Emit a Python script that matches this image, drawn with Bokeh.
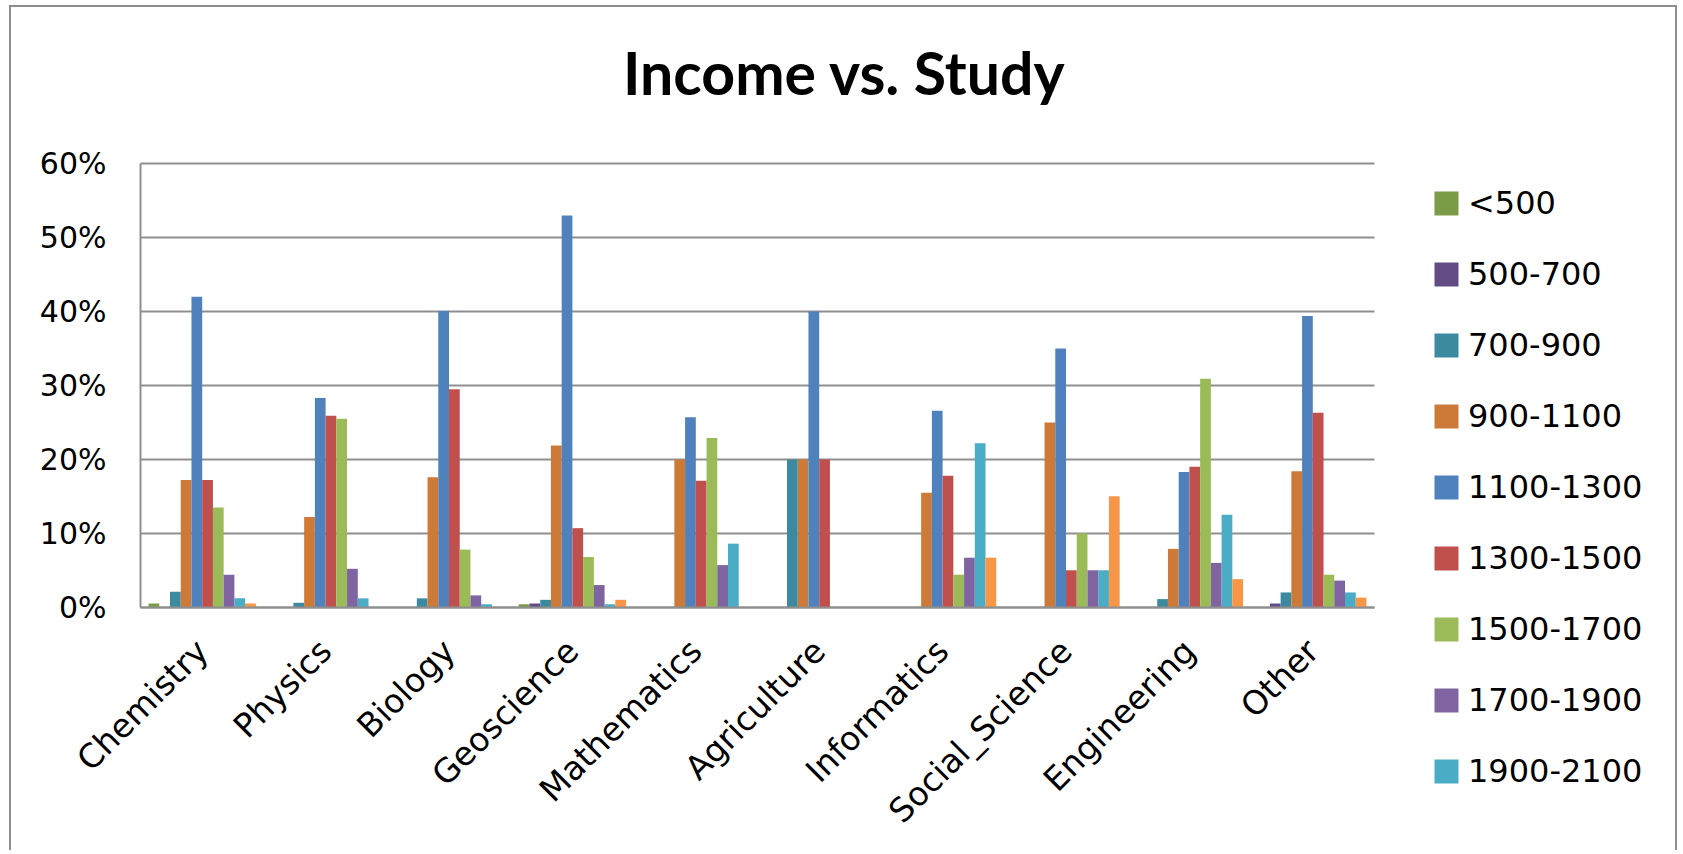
from bokeh.plotting import figure
from bokeh.models import (ColumnDataSource, Range1d, Legend, LegendItem, Label,
                          NumeralTickFormatter, FixedTicker)
from bokeh.transform import dodge
from bokeh.embed import file_html
from bokeh.resources import INLINE
import math

categories = ["Chemistry", "Physics", "Biology", "Geoscience", "Mathematics",
              "Agriculture", "Informatics", "Social_Science", "Engineering", "Other"]

series_names = ["<500", "500-700", "700-900", "900-1100", "1100-1300",
                "1300-1500", "1500-1700", "1700-1900", "1900-2100", ">2100"]

# percentages per category, one list per income band
s_lt500     = [0.5, 0.0, 0.0, 0.4, 0.0, 0.0, 0.0, 0.0, 0.0, 0.0]
s_500_700   = [0.0, 0.0, 0.0, 0.5, 0.0, 0.0, 0.0, 0.0, 0.0, 0.5]
s_700_900   = [2.1, 0.6, 1.2, 1.0, 0.0, 20.0, 0.0, 0.0, 1.1, 2.0]
s_900_1100  = [17.2, 12.2, 17.6, 21.9, 20.0, 20.0, 15.5, 25.0, 7.9, 18.4]
s_1100_1300 = [42.0, 28.3, 40.1, 53.0, 25.7, 40.0, 26.6, 35.0, 18.3, 39.4]
s_1300_1500 = [17.2, 25.9, 29.5, 10.7, 17.1, 20.0, 17.8, 5.0, 19.0, 26.3]
s_1500_1700 = [13.5, 25.5, 7.8, 6.8, 22.9, 0.0, 4.4, 10.0, 30.9, 4.4]
s_1700_1900 = [4.4, 5.2, 1.6, 3.0, 5.7, 0.0, 6.7, 5.0, 6.0, 3.6]
s_1900_2100 = [1.2, 1.2, 0.4, 0.4, 8.6, 0.0, 22.2, 5.0, 12.5, 2.0]
s_gt2100    = [0.5, 0.0, 0.0, 1.0, 0.0, 0.0, 6.7, 15.0, 3.8, 1.3]

series_values = [s_lt500, s_500_700, s_700_900, s_900_1100, s_1100_1300,
                 s_1300_1500, s_1500_1700, s_1700_1900, s_1900_2100, s_gt2100]

colors = ["#7B9B46", "#634C86", "#3B8AA0", "#CD7A39", "#4F81BD",
          "#C0504D", "#9BBB59", "#8064A2", "#4BACC6", "#F79646"]

y_ticks = [0.0, 0.1, 0.2, 0.3, 0.4, 0.5, 0.6]
title_text = "Income vs. Study"

ncat = len(categories)
data = {"cat": categories, "xpos": [i + 0.5 for i in range(ncat)]}
for i, vals in enumerate(series_values):
    data["s%d" % i] = [v / 100.0 for v in vals]
source = ColumnDataSource(data)

# The frame covers (almost) the whole canvas so that axis labels, title and
# legend all sit inside it; the plotted region is x in [0, 10], y in [0, 0.6].
W, H = 1668, 845
X_START, X_END = -1.0292, 12.3338
Y_MIN, Y_MAX = -0.3319, 0.8061

p = figure(x_range=Range1d(X_START, X_END), y_range=Range1d(Y_MIN, Y_MAX),
           width=W, height=H, output_backend="svg", toolbar_location=None,
           min_border_left=2, min_border_right=17, min_border_top=4,
           min_border_bottom=0)
p.outline_line_color = None
p.background_fill_color = "white"
p.border_fill_color = "white"

n = len(series_names)
bw = 1.0 / (n + 1.5)
renderers = []
for i in range(n):
    off = (i - (n - 1) / 2.0) * bw
    r = p.vbar(x=dodge("xpos", off), top="s%d" % i, width=bw,
               source=source, fill_color=colors[i], line_color=None)
    renderers.append(r)

grid_col = "#8f8f8f"
p.xgrid.grid_line_color = None
p.ygrid.grid_line_color = grid_col
p.ygrid.grid_line_width = 2
p.ygrid.ticker = FixedTicker(ticks=y_ticks)
p.ygrid.bounds = (0, 0.6)
p.ygrid.cross_bounds = (0, ncat)

ya = p.yaxis[0]
ya.fixed_location = 0
ya.ticker = FixedTicker(ticks=y_ticks)
ya.bounds = (0, 0.6)
ya.formatter = NumeralTickFormatter(format="0%")
ya.axis_line_color = grid_col
ya.axis_line_width = 2
ya.major_tick_line_color = None
ya.minor_tick_line_color = None
ya.major_tick_out = 0
ya.major_tick_in = 0
ya.major_label_standoff = 34
ya.major_label_text_font = "DejaVu Sans"
ya.major_label_text_font_size = "30px"
ya.major_label_text_color = "black"

x_ticks = [i + 0.5 for i in range(ncat)]
xa = p.xaxis[0]
xa.fixed_location = 0
xa.bounds = (0, ncat)
xa.ticker = FixedTicker(ticks=x_ticks)
xa.major_label_overrides = {t: c for t, c in zip(x_ticks, categories)}
xa.axis_line_color = grid_col
xa.axis_line_width = 2
xa.major_tick_line_color = None
xa.minor_tick_line_color = None
xa.major_tick_out = 0
xa.major_tick_in = 0
xa.major_label_orientation = math.pi / 4
xa.major_label_standoff = 38
xa.major_label_text_font = "DejaVu Sans"
xa.major_label_text_font_size = "33px"
xa.major_label_text_color = "black"

title = Label(x=5.705, y=0.7237, text=title_text, text_align="center",
              text_baseline="alphabetic", text_font="Lato", text_font_style="bold",
              text_font_size="59px", text_color="black")
p.add_layout(title)

items = [LegendItem(label=series_names[i], renderers=[renderers[i]]) for i in range(9)]
legend = Legend(items=items, location=(1418, 62), orientation="vertical",
                glyph_width=30, glyph_height=30, label_standoff=7, spacing=33,
                padding=0, margin=0, border_line_color=None,
                background_fill_alpha=0, label_text_font="DejaVu Sans",
                label_text_font_size="32px", label_text_color="black")
p.add_layout(legend, "center")

p.styles = {"margin-left": "9px", "margin-top": "5px",
            "border-top": "2px solid #8e8e8e", "border-left": "2px solid #8e8e8e",
            "border-right": "2px solid #8e8e8e"}

open("out.html", "w").write(file_html(p, INLINE))
